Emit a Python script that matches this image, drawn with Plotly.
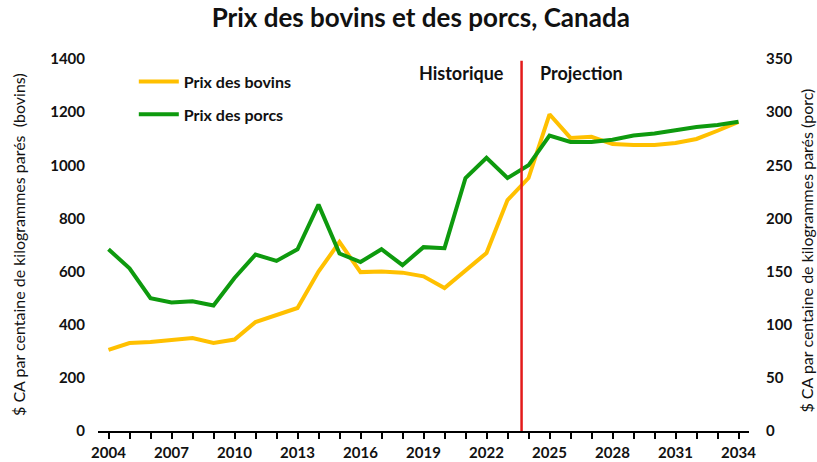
import plotly.graph_objects as go

years = list(range(2004, 2035))
bovins = [305, 331, 335, 342, 350, 331, 344, 410, 437, 463, 600, 711, 598, 600, 596, 582, 538, 604, 670, 869, 952, 1192,
          1103, 1107, 1080, 1076, 1076, 1084, 1099, 1130, 1163]
porcs = [171, 153, 125, 121, 122, 118, 144, 166, 160, 171, 213, 167, 159, 171, 156, 173, 172, 238, 257, 238, 250, 278,
         272, 272, 274, 278, 280, 283, 286, 288, 291]
split_year = 2023.67

FONT = "Lato"
INK = "#111111"
L, R, T, B = 98, 68, 59, 31
W, H = 817, 462
PW = W - L - R

fig = go.Figure()
fig.add_trace(go.Scatter(x=years, y=bovins, name="Prix des bovins", mode="lines",
                         line=dict(color="#FFC000", width=4), legendgroup="a", yaxis="y"))
fig.add_trace(go.Scatter(x=years, y=porcs, name="Prix des porcs", mode="lines",
                         line=dict(color="#0E9A0E", width=4), legendgroup="b", yaxis="y2"))

fig.add_shape(type="line", xref="x", yref="paper", x0=split_year, x1=split_year, y0=0, y1=0.995,
              line=dict(color="#E31A1A", width=2.5))

tf = dict(size=15, family=FONT, color=INK, weight="bold")
fig.update_layout(
    width=W, height=H,
    margin=dict(l=L, r=R, t=T, b=B, autoexpand=False),
    paper_bgcolor="white", plot_bgcolor="white",
    font=dict(family=FONT, color=INK),
    title=dict(text="<b>Prix des bovins et des porcs, Canada</b>", x=0.515, xanchor="center",
               y=0.961, yanchor="middle", font=dict(size=26, family=FONT, color=INK)),
    showlegend=True,
    legend=dict(x=0.055, y=0.985, xanchor="left", yanchor="top", bgcolor="rgba(0,0,0,0)",
                font=dict(size=16, family=FONT, color=INK, weight="bold"), traceorder="grouped",
                tracegroupgap=9, itemwidth=40),
    xaxis=dict(range=[2003.5, 2034.5], tick0=2004, dtick=3, ticks="outside", ticklen=6,
               tickcolor="black", tickwidth=1.5, showline=True, linecolor="black", linewidth=1.5,
               showgrid=False, zeroline=False, tickfont=tf, automargin=False,
               minor=dict(dtick=1, tick0=2004, ticks="outside", ticklen=6, tickcolor="black", tickwidth=1.5,
                          showgrid=False),
               ticklabelstandoff=1),
    yaxis=dict(range=[0, 1400], dtick=200, showgrid=False, zeroline=False, showline=False,
               tickfont=tf, ticklabelstandoff=12, automargin=False),
    yaxis2=dict(range=[0, 350], dtick=50, overlaying="y", side="right", showgrid=False, zeroline=False,
                showline=False, tickfont=tf, ticklabelstandoff=16, automargin=False),
)

fig.add_annotation(text="<b>Historique</b>", x=split_year - 0.75, y=1.0, xref="x", yref="paper",
                   xanchor="right", yanchor="middle", showarrow=False,
                   font=dict(size=18, family=FONT, color=INK), yshift=-14)
fig.add_annotation(text="<b>Projection</b>", x=split_year + 0.8, y=1.0, xref="x", yref="paper",
                   xanchor="left", yanchor="middle", showarrow=False,
                   font=dict(size=18, family=FONT, color=INK), yshift=-14)
fig.add_annotation(text="$ CA par centaine de kilogrammes parés  (bovins)", x=(18 - L) / PW, y=0.5,
                   xref="paper", yref="paper", xanchor="center", yanchor="middle", textangle=-90,
                   showarrow=False, font=dict(size=16, family=FONT, color=INK))
fig.add_annotation(text="$ CA par centaine de kilogrammes parés (porc)", x=(807 - L) / PW, y=0.485,
                   xref="paper", yref="paper", xanchor="center", yanchor="middle", textangle=-90,
                   showarrow=False, font=dict(size=16, family=FONT, color=INK))

fig.write_html("out.html", config={"displayModeBar": False},
               post_script="document.body.style.margin='0';document.body.style.overflow='hidden';")
